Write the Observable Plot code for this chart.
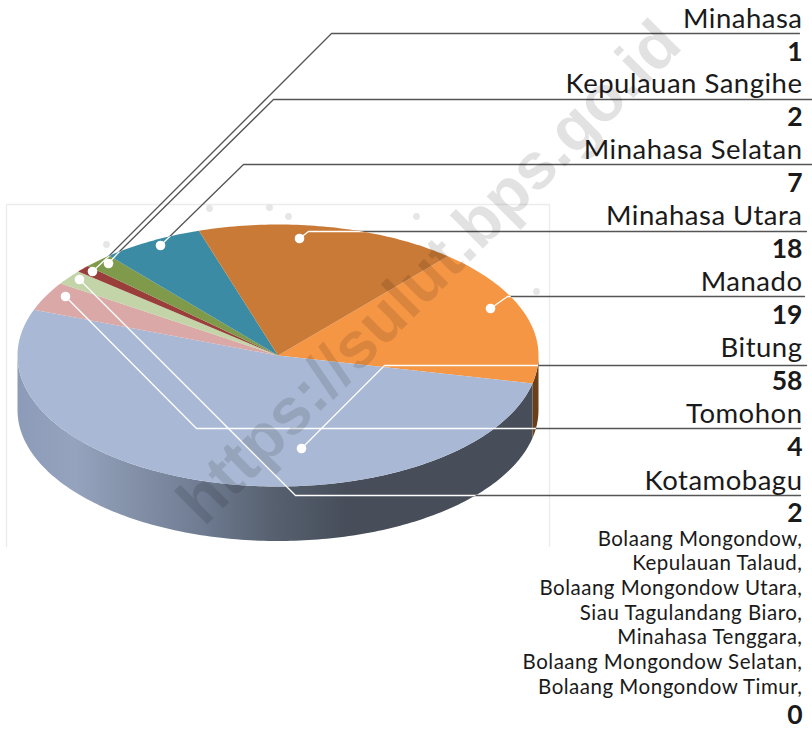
<!DOCTYPE html>
<html>
<head>
<meta charset="utf-8">
<style>html,body{margin:0;padding:0;background:#fff}svg{display:block}</style>
<script src="https://cdn.jsdelivr.net/npm/d3@7"></script>
<script src="https://cdn.jsdelivr.net/npm/@observablehq/plot@0.6"></script>
</head>
<body>
<div id="chart"></div>
<script>
// Data, in pie order (clockwise)
const sliceNames = ["Manado","Bitung","Tomohon","Kotamobagu","Minahasa","Kepulauan Sangihe","Minahasa Selatan","Minahasa Utara"];
const sliceValues = [19,58,4,2,1,2,7,18];
const sliceColors = ["#f59645","#a9b8d4","#d9a8a7","#c3d4a8","#993e3a","#7e9a4a","#3a8ba3","#c97a37"];
const labelOrder = ["Minahasa","Kepulauan Sangihe","Minahasa Selatan","Minahasa Utara","Manado","Bitung","Tomohon","Kotamobagu"];
const zeroNames = ["Bolaang Mongondow,","Kepulauan Talaud,","Bolaang Mongondow Utara,","Siau Tagulandang Biaro,","Minahasa Tenggara,","Bolaang Mongondow Selatan,","Bolaang Mongondow Timur,"];
const zeroValue = 0;

// Layout
const W = 812, H = 729;
const cx = 277.5, cy = 355, rx = 260.5, ry = 131, depth = 54.5;
const startDeg = -49.3;
const labelBase = [27,60,92,125,158,191,224,257,290,323,356,389,422,455,489,521];
const zeroBase = [545,569.5,594,619,643.5,668,693];
const zeroNumBase = 723;
const textRight = 802;
const leaderPaths = {
  "Minahasa": [[92,271],[107,257],[331,33],[799,33]],
  "Kepulauan Sangihe": [[108,263],[118,252],[273,99],[812,99]],
  "Minahasa Selatan": [[160,245],[243,164],[812,164]],
  "Minahasa Utara": [[299,238],[308,231],[806,231]],
  "Manado": [[490,308],[507,296],[804,296]],
  "Bitung": [[301,448],[384,365],[806,365]],
  "Tomohon": [[65,296],[196,428],[800,428]],
  "Kotamobagu": [[79,279],[295,495],[800,495]]
};
const bgDots = [[106,244],[209,208],[269,207],[288,216],[416,216],[536,291]];
const framePts = [[6,546],[6,204],[549,204],[549,546]];

const total = d3.sum(sliceValues);
const pt = (deg, dz = 0) => {
  const a = deg * Math.PI / 180;
  return [cx + rx * Math.cos(a), cy + ry * Math.sin(a) + dz];
};
const arcPts = (a0, a1, dz = 0) => {
  const n = Math.max(2, Math.ceil(Math.abs(a1 - a0)));
  return d3.range(n + 1).map(i => pt(a0 + (a1 - a0) * i / n, dz));
};
let acc = startDeg;
const slices = sliceNames.map((name, i) => {
  const a0 = acc, a1 = acc + sliceValues[i] / total * 360;
  acc = a1;
  return {name, a0, a1};
});
const row = (name, p) => ({name, x: p[0], y: p[1]});
const topFaces = slices.flatMap(s => [[cx, cy], ...arcPts(s.a0, s.a1)].map(p => row(s.name, p)));
const wall = (a0, a1) => [...arcPts(a0, a1), ...arcPts(a1, a0, depth)];
const manado = slices[0], bitung = slices[1];
const manadoWall = wall(0, manado.a1).map(p => row("m", p));
const bitungWall = wall(bitung.a0, 180).map(p => row("b", p));
const silhouette = [...arcPts(0, 180, depth), ...arcPts(180, 360)];
const leaders = labelOrder.flatMap(n => leaderPaths[n].map(p => row(n, p)));
const labelTexts = labelOrder.flatMap(n => [n, String(sliceValues[sliceNames.indexOf(n)])]);
const labelRows = labelTexts.map((t, i) => ({t, y: labelBase[i], bold: i % 2 === 1}));
const zeroRows = zeroNames.map((t, i) => ({t, y: zeroBase[i]}));

const sideStops = [[0,"#8c9bb8"],[0.11,"#95a3be"],[0.217,"#8491a9"],[0.35,"#6f7c92"],[0.485,"#576170"],[0.63,"#474e5a"],[1,"#474e5a"]];

const defs = (index, scales) => {
  const ns = "http://www.w3.org/2000/svg";
  const d = document.createElementNS(ns, "defs");
  const g = document.createElementNS(ns, "linearGradient");
  g.setAttribute("id", "sideGrad");
  g.setAttribute("gradientUnits", "userSpaceOnUse");
  g.setAttribute("x1", scales.x(cx - rx)); g.setAttribute("x2", scales.x(cx + rx));
  g.setAttribute("y1", 0); g.setAttribute("y2", 0);
  for (const [o, c] of sideStops) {
    const s = document.createElementNS(ns, "stop");
    s.setAttribute("offset", o); s.setAttribute("stop-color", c);
    g.appendChild(s);
  }
  d.appendChild(g);
  const c = document.createElementNS(ns, "clipPath");
  c.setAttribute("id", "pieClip");
  const p = document.createElementNS(ns, "path");
  p.setAttribute("d", d3.line(q => scales.x(q[0]), q => scales.y(q[1]))(silhouette) + "Z");
  c.appendChild(p);
  d.appendChild(c);
  return d;
};
const clipToPie = (index, scales, values, dims, context, next) => {
  const g = next(index, scales, values, dims, context);
  g.setAttribute("clip-path", "url(#pieClip)");
  return g;
};
const spaced = (index, scales, values, dims, context, next) => {
  const g = next(index, scales, values, dims, context);
  g.style.letterSpacing = "0.5px";
  return g;
};

const labelFont = "Lato";
const plot = Plot.plot({
  width: W, height: H, margin: 0,
  x: {domain: [0, W], range: [0, W], axis: null},
  y: {domain: [0, H], range: [0, H], axis: null},
  color: {domain: sliceNames, range: sliceColors},
  style: {background: "#fff", fontFamily: labelFont},
  marks: [
    defs,
    Plot.line(framePts, {x: d => d[0], y: d => d[1], stroke: "#ececec", strokeWidth: 1.3}),
    Plot.dot(bgDots, {x: d => d[0], y: d => d[1], r: 3.4, fill: "#e6e6e6"}),
    Plot.line(leaders, {x: "x", y: "y", z: "name", stroke: "#555", strokeWidth: 1.3}),
    Plot.line(manadoWall, {x: "x", y: "y", z: "name", fill: "#6b4018", stroke: "none"}),
    Plot.line(bitungWall, {x: "x", y: "y", z: "name", fill: "url(#sideGrad)", stroke: "none"}),
    Plot.line(topFaces, {x: "x", y: "y", z: "name", fill: "name", stroke: "none"}),
    Plot.line(leaders, {x: "x", y: "y", z: "name", stroke: "#fff", strokeWidth: 1.3, render: clipToPie}),
    Plot.dot(labelOrder, {
      x: n => leaderPaths[n][0][0], y: n => leaderPaths[n][0][1],
      r: 4.8, fill: "#fff", stroke: "none"
    }),
    Plot.text(["https://sulut.bps.go.id"], {
      x: [443.5], y: [287], text: d => d, rotate: -45, textAnchor: "middle", lineAnchor: "bottom",
      fontFamily: "Liberation Sans", fontWeight: "bold", fontSize: 65, fill: "#000", fillOpacity: 0.115
    }),
    Plot.text(labelRows.filter(d => !d.bold), {
      x: () => textRight, y: "y", text: "t", textAnchor: "end", lineAnchor: "bottom",
      fontSize: 27.5, fill: "#1a1a1a", render: spaced
    }),
    Plot.text(labelRows.filter(d => d.bold), {
      x: () => textRight, y: "y", text: "t", textAnchor: "end", lineAnchor: "bottom",
      fontSize: 26.5, fontWeight: "bold", fill: "#1a1a1a"
    }),
    Plot.text(zeroRows, {
      x: () => textRight, y: "y", text: "t", textAnchor: "end", lineAnchor: "bottom",
      fontSize: 20.5, fill: "#1a1a1a", render: spaced
    }),
    Plot.text([String(zeroValue)], {
      x: () => textRight, y: () => zeroNumBase, text: d => d, textAnchor: "end", lineAnchor: "bottom",
      fontSize: 26.5, fontWeight: "bold", fill: "#1a1a1a"
    })
  ]
});
document.getElementById("chart").appendChild(plot);
</script>
</body>
</html>
